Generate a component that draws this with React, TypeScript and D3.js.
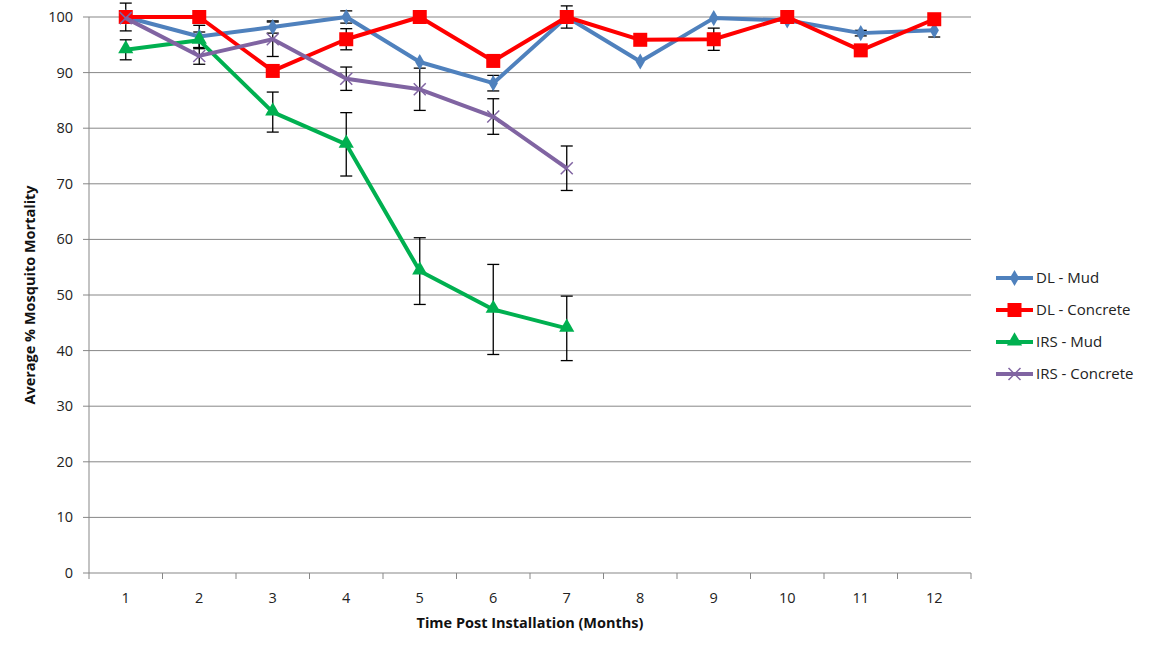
import React from 'react';
import * as d3 from 'd3';

const months = [1, 2, 3, 4, 5, 6, 7, 8, 9, 10, 11, 12];
const yTicks = [0, 10, 20, 30, 40, 50, 60, 70, 80, 90, 100];

const dlMud = [100, 96.5, 98.2, 100, 91.9, 88.1, 100, 92, 99.8, 99.4, 97.1, 97.6];
const dlMudErr = [2.5, 2, 1.1, 1.1, 0, 1.4, 0, 0, 0, 0, 0.5, 1.2];
const dlConcrete = [100, 100, 90.3, 96, 100, 92.1, 100, 95.9, 96, 100, 94, 99.6];
const dlConcreteErr = [0, 0, 0, 1.9, 0, 0, 2, 0, 2, 0, 0, 0];
const irsMud = [94.1, 95.8, 82.9, 77.1, 54.3, 47.4, 44];
const irsMudErr = [1.8, 1.5, 3.6, 5.7, 6, 8.1, 5.8];
const irsConcrete = [99.8, 93, 96, 88.9, 87, 82.1, 72.8];
const irsConcreteErr = [0, 1.5, 3.1, 2.1, 3.8, 3.2, 4];

const series = [
  { name: 'DL - Mud', values: dlMud, err: dlMudErr, color: '#4F81BD', marker: 'diamond' },
  { name: 'DL - Concrete', values: dlConcrete, err: dlConcreteErr, color: '#FF0000', marker: 'square' },
  { name: 'IRS - Mud', values: irsMud, err: irsMudErr, color: '#00B050', marker: 'triangle' },
  { name: 'IRS - Concrete', values: irsConcrete, err: irsConcreteErr, color: '#8064A2', marker: 'x' },
];

const font = 'Open Sans, Liberation Sans, sans-serif';

function Marker({ type, x, y, color }: { type: string; x: number; y: number; color: string }) {
  if (type === 'diamond') {
    return <path d={d3.symbol(d3.symbolDiamond, 75)()!} transform={`translate(${x},${y})`} fill={color} />;
  }
  if (type === 'square') {
    return <rect x={x - 7} y={y - 7} width={14} height={14} fill={color} />;
  }
  if (type === 'triangle') {
    return <path d={d3.symbol(d3.symbolTriangle, 100)()!} transform={`translate(${x},${y - 1})`} fill={color} />;
  }
  return (
    <path d={`M${x - 6},${y - 6}L${x + 6},${y + 6}M${x - 6},${y + 6}L${x + 6},${y - 6}`} stroke={color} strokeWidth={1.5} fill="none" />
  );
}

export default function App() {
  const width = 1151;
  const height = 652;
  const left = 89;
  const right = 971;
  const top = 17;
  const bottom = 573;

  const x = d3.scaleBand<number>().domain(months).range([left, right]);
  const y = d3.scaleLinear().domain([0, 100]).range([bottom, top]);
  const cx = (i: number) => x(months[i])! + x.bandwidth() / 2;

  const line = d3
    .line<number>()
    .x((_, i) => cx(i))
    .y((v) => y(v));

  return (
    <svg width={width} height={height} style={{ position: 'absolute', left: 0, top: 0, background: '#fff' }}>
      {yTicks.map((t) => (
        <g key={t}>
          {t > 0 && <line x1={left} x2={right} y1={y(t)} y2={y(t)} stroke="#878787" strokeWidth={1} />}
          <line x1={left - 6} x2={left} y1={y(t)} y2={y(t)} stroke="#878787" />
          <text x={left - 16} y={y(t)} dy="0.35em" textAnchor="end" fontFamily={font} fontSize={14.5} fill="#222">
            {t}
          </text>
        </g>
      ))}
      <line x1={left} x2={left} y1={top} y2={bottom} stroke="#878787" />
      <line x1={left} x2={right} y1={bottom} y2={bottom} stroke="#878787" />
      {months.map((m, i) => (
        <g key={m}>
          <line x1={x(m)!} x2={x(m)!} y1={bottom} y2={bottom + 6} stroke="#878787" />
          <text x={cx(i)} y={bottom + 30} textAnchor="middle" fontFamily={font} fontSize={14.5} fill="#222">
            {m}
          </text>
        </g>
      ))}
      <line x1={right} x2={right} y1={bottom} y2={bottom + 6} stroke="#878787" />

      {series.map((s) => (
        <g key={s.name + 'err'}>
          {s.values.map((v, i) =>
            s.err[i] > 0 ? (
              <g key={i} stroke="#000" strokeWidth={1.3}>
                <line x1={cx(i)} x2={cx(i)} y1={y(v + s.err[i])} y2={y(v - s.err[i])} />
                <line x1={cx(i) - 6} x2={cx(i) + 6} y1={y(v + s.err[i])} y2={y(v + s.err[i])} />
                <line x1={cx(i) - 6} x2={cx(i) + 6} y1={y(v - s.err[i])} y2={y(v - s.err[i])} />
              </g>
            ) : null
          )}
        </g>
      ))}

      {series.map((s) => (
        <g key={s.name}>
          <path d={line(s.values)!} fill="none" stroke={s.color} strokeWidth={4} strokeLinejoin="round" />
          {s.values.map((v, i) => (
            <Marker key={i} type={s.marker} x={cx(i)} y={y(v)} color={s.color} />
          ))}
        </g>
      ))}

      {series.map((s, i) => {
        const ly = 278 + i * 32;
        return (
          <g key={s.name + 'leg'}>
            <line x1={996} x2={1033} y1={ly} y2={ly} stroke={s.color} strokeWidth={4} />
            <Marker type={s.marker} x={1014.5} y={ly} color={s.color} />
            <text x={1036} y={ly} dy="0.35em" fontFamily={font} fontSize={15} fill="#222">
              {s.name}
            </text>
          </g>
        );
      })}

      <text
        transform={`translate(35,${(top + bottom) / 2}) rotate(-90)`}
        textAnchor="middle"
        fontFamily={font}
        fontSize={14.5}
        fontWeight="bold"
        fill="#111"
      >
        Average % Mosquito Mortality
      </text>
      <text x={(left + right) / 2} y={628} textAnchor="middle" fontFamily={font} fontSize={14.5} fontWeight="bold" fill="#111">
        Time Post Installation (Months)
      </text>
    </svg>
  );
}
